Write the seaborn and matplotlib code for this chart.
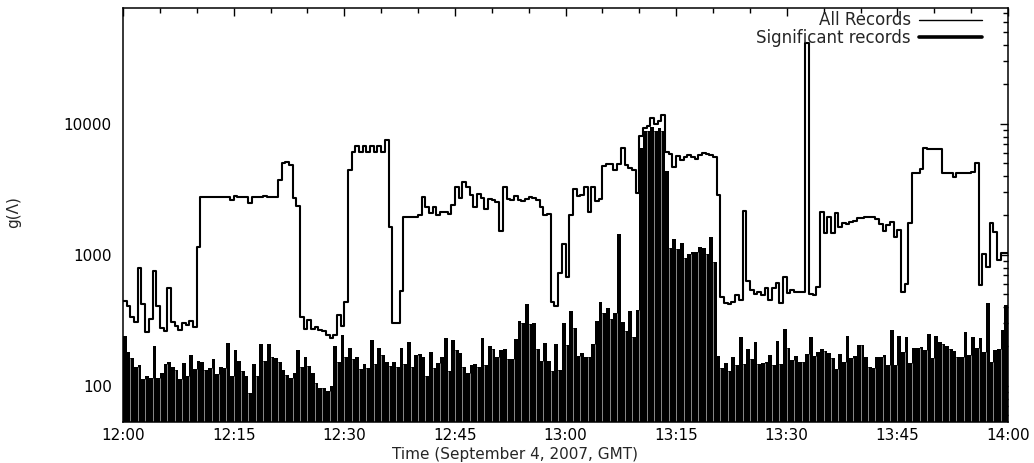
import numpy as np
import pandas as pd
import matplotlib
matplotlib.use("Agg")
import matplotlib.pyplot as plt
import seaborn as sns
from matplotlib.ticker import FixedLocator, NullFormatter, LogLocator
from matplotlib.lines import Line2D

# ---------------- data (one value per 30 s, 12:00 -> 14:00 GMT) ----------------
step_minutes = 0.5

all_records = [
    448, 407, 338, 306, 800, 422, 257, 324, 759, 410,
    275, 264, 556, 306, 289, 267, 301, 292, 315, 280,
    1142, 2770, 2760, 2780, 2770, 2750, 2770, 2780, 2770, 2630,
    2800, 2770, 2760, 2770, 2507, 2760, 2770, 2770, 2800, 2790,
    2770, 2770, 3735, 5070, 5150, 4860, 2740, 2365, 334, 270,
    319, 273, 283, 267, 262, 245, 231, 243, 348, 287,
    434, 4450, 6150, 6750, 6150, 6750, 6150, 6750, 6150, 6750,
    6150, 7550, 1625, 301, 301, 533, 1960, 1960, 1930, 1930,
    2010, 2790, 2310, 2105, 2330, 2010, 2140, 2140, 2050, 2400,
    3280, 2700, 3600, 3280, 2870, 2330, 2900, 2700, 2245, 2680,
    2630, 2550, 1525, 3280, 2660, 2630, 2840, 2630, 2580, 2660,
    2770, 2740, 2630, 2310, 2010, 2070, 440, 407, 733, 1215,
    675, 2020, 3205, 2840, 2860, 3280, 2140, 3280, 2600, 2660,
    4780, 4950, 4950, 4460, 4920, 6590, 4870, 4590, 4460, 2960,
    8150, 9300, 9710, 11040, 10000, 10600, 11700, 6070, 5860, 4720,
    5730, 5310, 5630, 5800, 5630, 5370, 5800, 5970, 5900, 5800,
    5580, 2870, 480, 432, 423, 440, 494, 450, 2170, 636,
    540, 503, 520, 490, 562, 455, 562, 607, 432, 683,
    509, 540, 520, 520, 520, 41500, 500, 490, 572, 2140,
    1463, 1960, 1470, 2080, 1645, 1742, 1720, 1795, 1800, 1905,
    1905, 1935, 1935, 1935, 1880, 1720, 1524, 1700, 1795, 1380,
    1540, 519, 597, 1766, 4200, 4200, 4505, 6590, 6400, 6400,
    6400, 6400, 4250, 4250, 4250, 3960, 4250, 4250, 4250, 4250,
    4310, 5070, 590, 1016, 814, 1766, 1507, 914, 1028, 1028,
]

significant_records = [
    240, 183, 163, 139, 145, 112, 119, 114, 200, 114,
    125, 146, 151, 139, 132, 112, 149, 120, 172, 135,
    155, 153, 132, 136, 160, 123, 139, 138, 211, 118,
    188, 155, 129, 120, 88, 146, 119, 209, 156, 209,
    167, 164, 151, 132, 121, 114, 125, 188, 139, 167,
    142, 125, 106, 96, 96, 92, 100, 202, 151, 243,
    165, 194, 160, 167, 134, 147, 136, 224, 147, 194,
    172, 153, 143, 153, 140, 194, 146, 218, 140, 172,
    175, 167, 119, 183, 136, 149, 165, 233, 129, 224,
    188, 179, 140, 125, 145, 146, 140, 233, 145, 202,
    190, 167, 188, 190, 160, 161, 227, 315, 304, 422,
    297, 304, 190, 156, 214, 156, 131, 208, 132, 301,
    206, 373, 275, 170, 177, 167, 167, 209, 315, 435,
    359, 396, 325, 363, 1445, 306, 264, 373, 238, 380,
    6520, 8890, 8790, 9440, 8890, 9270, 8790, 4400, 1137, 1318,
    1105, 1227, 955, 1019, 1060, 1050, 1143, 1137, 1019, 1380,
    880, 170, 136, 149, 131, 167, 145, 235, 146, 191,
    161, 215, 146, 149, 153, 172, 145, 222, 146, 272,
    194, 158, 169, 151, 151, 174, 238, 169, 183, 190,
    186, 177, 164, 134, 175, 153, 240, 163, 169, 206,
    206, 167, 140, 138, 167, 167, 172, 145, 267, 145,
    240, 183, 238, 149, 194, 194, 197, 188, 248, 163,
    240, 215, 209, 202, 191, 186, 167, 165, 259, 172,
    238, 194, 231, 183, 432, 151, 188, 190, 267, 415,
]

tick_minutes = [0, 15, 30, 45, 60, 75, 90, 105, 120]
tick_labels = ["12:00", "12:15", "12:30", "12:45", "13:00",
               "13:15", "13:30", "13:45", "14:00"]
ytick_values = [100, 1000, 10000]
ytick_labels = ["100", "1000", "10000"]
series_labels = ["All Records", "Significant records"]
x_label = "Time (September 4, 2007, GMT)"
y_label = "g(\u039b)"

# ---------------- style ----------------
sns.set_theme(style="white")
plt.rcParams["font.family"] = ["DejaVu Sans"]

W, H = 1034, 463
fig = plt.figure(figsize=(W / 100, H / 100), dpi=100)
ax = fig.add_axes([123 / W, 1 - 422 / H, 885 / W, 414 / H])

t = np.arange(len(all_records)) * step_minutes

# significant records as filled boxes
ax.bar(t, significant_records, width=step_minutes, align="edge",
       color="black", linewidth=0, zorder=2)
# thin grey box separators every minute
sig = np.asarray(significant_records, dtype=float)
sep_idx = np.arange(2, len(sig), 2)
ax.vlines(t[sep_idx], 1, np.minimum(sig[sep_idx - 1], sig[sep_idx]),
          colors="#8a8a8a", linewidth=0.7, zorder=3)

# all records as a step line
df = pd.DataFrame({
    "minute": np.append(t, t[-1] + step_minutes),
    "g": np.append(all_records, all_records[-1]),
})
sns.lineplot(data=df, x="minute", y="g", drawstyle="steps-post",
             color="black", linewidth=1.5, ax=ax, zorder=4)

ax.set_yscale("log")
ax.set_xlim(0, 120)
ax.set_ylim(53, 76700)

ax.xaxis.set_major_locator(FixedLocator(tick_minutes))
ax.set_xticklabels(tick_labels)
ax.xaxis.set_minor_locator(FixedLocator(np.arange(0, 121, 5)))
ax.yaxis.set_major_locator(FixedLocator(ytick_values))
ax.set_yticklabels(ytick_labels)
ax.yaxis.set_minor_locator(LogLocator(base=10, subs=np.arange(2, 10)))
ax.yaxis.set_minor_formatter(NullFormatter())

ax.tick_params(axis="both", which="both", direction="in", top=True,
               right=True, colors="black", labelsize=11, width=1.0)
ax.tick_params(axis="y", which="major", length=6, pad=8)
ax.tick_params(axis="x", which="major", length=6, pad=4)
ax.tick_params(axis="both", which="minor", length=3.5)
for s in ax.spines.values():
    s.set_color("black")
    s.set_linewidth(1.1)
    s.set_zorder(6)

ax.set_xlabel("")
ax.set_ylabel("")
fig.text(515 / W, 1 - 455 / H, x_label, ha="center", va="center", fontsize=11)
fig.text(14 / W, 1 - 212 / H, y_label, ha="center", va="center",
         rotation=90, fontsize=11)

handles = [Line2D([], [], color="black", linewidth=1.0),
           Line2D([], [], color="black", linewidth=2.6)]
ax.legend(handles, series_labels, loc="upper right", markerfirst=False,
          frameon=False, fontsize=12, handlelength=3.8, handletextpad=0.45,
          labelspacing=-0.05, borderaxespad=0.0, bbox_to_anchor=(0.978, 1.008))

fig.savefig("out.png", dpi=100, facecolor="white")
